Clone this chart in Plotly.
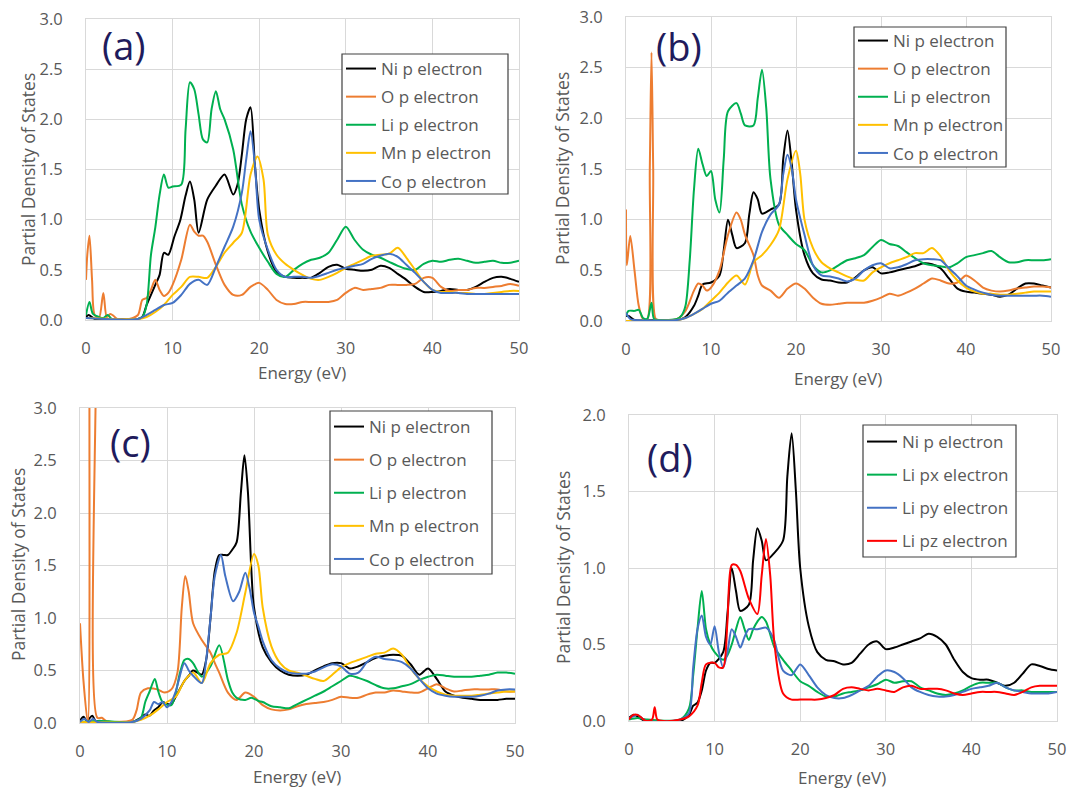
import plotly.graph_objects as go

W, H = 1069, 789
TAIL_E = list(range(21, 51))

# ---------------- panel (a) ----------------
a_ni_e = [0, 0.3, 1, 2, 4, 6, 6.5, 7, 7.5, 8, 8.5, 9, 9.5, 10.2, 10.9, 11.5, 12, 12.5, 13, 14,
          15, 16, 17, 17.5, 18, 18.5, 19, 19.5, 20] + TAIL_E
a_ni_v = [0.03, 0.05, 0.01, 0.01, 0.01, 0.01, 0.03, 0.15, 0.25, 0.35, 0.45, 0.67, 0.65, 0.83, 1.0, 1.24, 1.38, 1.2, 0.87, 1.2,
          1.34, 1.45, 1.25, 1.35, 1.65, 2.0, 2.12, 1.55, 1.1,
          0.68, 0.48, 0.43, 0.42, 0.42, 0.42, 0.47, 0.53, 0.55, 0.51,
          0.5, 0.49, 0.5, 0.54, 0.52, 0.46, 0.4, 0.33, 0.28, 0.28,
          0.29, 0.31, 0.3, 0.3, 0.33, 0.38, 0.42, 0.43, 0.41, 0.38]

a_o_e = [0, 0.15, 0.4, 0.7, 1.0, 1.5, 2.0, 2.4, 2.8, 3.2, 3.6, 5, 6, 6.5, 7, 7.5, 8, 8.5, 9, 9.5, 10,
         11, 12, 12.5, 13, 13.5, 14, 15, 16, 17, 18, 19, 20] + TAIL_E
a_o_v = [0.4, 0.65, 0.84, 0.4, 0.05, 0.02, 0.27, 0.03, 0.06, 0.04, 0.01, 0.01, 0.05, 0.2, 0.22, 0.3, 0.4, 0.3, 0.24, 0.27, 0.35,
         0.6, 0.95, 0.88, 0.84, 0.84, 0.78, 0.55, 0.35, 0.25, 0.25, 0.33, 0.37,
         0.3, 0.2, 0.16, 0.16, 0.18, 0.18, 0.18, 0.18, 0.2, 0.27,
         0.32, 0.3, 0.31, 0.32, 0.35, 0.35, 0.35, 0.36, 0.42, 0.42,
         0.33, 0.29, 0.3, 0.3, 0.32, 0.32, 0.33, 0.34, 0.36, 0.34]

a_li_e = [0, 0.4, 0.8, 1.5, 2, 2.5, 3, 6, 6.5, 7, 7.5, 8, 8.5, 9, 9.5, 10, 11, 11.5, 12, 12.5,
          13, 13.5, 14, 14.5, 15, 15.5, 16, 17, 18, 19, 20] + TAIL_E
a_li_v = [0.05, 0.18, 0.06, 0.03, 0.02, 0.05, 0.01, 0.01, 0.03, 0.15, 0.65, 0.92, 1.25, 1.45, 1.32, 1.33, 1.35, 1.9, 2.37, 2.3,
          2.05, 1.8, 1.77, 2.1, 2.28, 2.1, 2.0, 1.7, 1.15, 0.88, 0.72,
          0.58, 0.46, 0.43, 0.5, 0.56, 0.6, 0.62, 0.67, 0.8, 0.93,
          0.8, 0.7, 0.65, 0.62, 0.58, 0.54, 0.51, 0.5, 0.56, 0.59,
          0.58, 0.6, 0.61, 0.59, 0.57, 0.58, 0.59, 0.57, 0.57, 0.59]

a_mn_e = [0, 6, 7, 8, 9, 10, 11, 12, 13, 14, 15, 16, 17, 18, 19, 19.8, 20.5] + TAIL_E
a_mn_v = [0.02, 0.01, 0.03, 0.08, 0.15, 0.25, 0.33, 0.43, 0.43, 0.42, 0.53, 0.67, 0.77, 0.87, 1.45, 1.63, 1.4,
          0.85, 0.65, 0.56, 0.5, 0.45, 0.41, 0.4, 0.43, 0.47, 0.52,
          0.56, 0.6, 0.64, 0.65, 0.66, 0.72, 0.62, 0.5, 0.38, 0.3,
          0.28, 0.28, 0.27, 0.27, 0.26, 0.26, 0.27, 0.28, 0.29, 0.29]

a_co_e = [0, 6, 7, 8, 9, 10, 11, 12, 13, 14, 15, 16, 17, 18, 18.5, 19, 19.5, 20] + TAIL_E
a_co_v = [0.02, 0.01, 0.05, 0.1, 0.15, 0.17, 0.25, 0.36, 0.4, 0.35, 0.53, 0.73, 0.93, 1.27, 1.6, 1.88, 1.55, 1.0,
          0.7, 0.5, 0.43, 0.43, 0.43, 0.42, 0.44, 0.47, 0.5, 0.52,
          0.54, 0.56, 0.61, 0.64, 0.66, 0.63, 0.55, 0.47, 0.38, 0.3,
          0.27, 0.27, 0.27, 0.26, 0.26, 0.26, 0.26, 0.26, 0.26, 0.26]

# ---------------- panel (b) ----------------
b_ni_e = [0, 0.3, 1, 4, 6, 7, 8, 8.5, 9, 10, 11, 11.5, 12, 12.5, 13, 14, 14.5, 15, 15.5, 16,
          17, 18, 18.5, 19, 19.5, 20] + TAIL_E
b_ni_v = [0.05, 0.05, 0.01, 0.01, 0.01, 0.04, 0.15, 0.25, 0.36, 0.38, 0.45, 0.7, 1.0, 0.85, 0.72, 0.77, 1.05, 1.27, 1.2, 1.06,
          1.1, 1.15, 1.6, 1.88, 1.55, 1.1,
          0.65, 0.47, 0.41, 0.4, 0.38, 0.38, 0.43, 0.5, 0.53, 0.47,
          0.48, 0.5, 0.52, 0.54, 0.57, 0.56, 0.52, 0.42, 0.32, 0.29,
          0.28, 0.27, 0.26, 0.24, 0.26, 0.32, 0.37, 0.37, 0.35, 0.33]

b_o_e = [0, 0.1, 0.5, 1, 1.5, 2, 2.5, 2.8, 3.0, 3.2, 3.5, 4, 6, 7, 8, 8.5, 9, 9.5, 10, 11,
         12, 13, 13.5, 14, 15, 15.5, 16, 17, 18, 19, 20] + TAIL_E
b_o_v = [1.1, 0.55, 0.84, 0.5, 0.15, 0.02, 0.02, 1.5, 2.65, 1.5, 0.02, 0.01, 0.02, 0.1, 0.3, 0.37, 0.35, 0.3, 0.33, 0.5,
         0.85, 1.07, 1.0, 0.85, 0.65, 0.45, 0.35, 0.3, 0.23, 0.32, 0.37,
         0.32, 0.23, 0.17, 0.16, 0.17, 0.18, 0.18, 0.18, 0.2, 0.23,
         0.27, 0.25, 0.28, 0.32, 0.37, 0.42, 0.4, 0.37, 0.38, 0.45,
         0.4, 0.33, 0.3, 0.29, 0.3, 0.32, 0.33, 0.34, 0.34, 0.33]

b_li_e = [0, 0.3, 1, 1.5, 2, 2.5, 3.0, 3.3, 4, 6, 6.5, 7, 7.5, 8, 8.5, 9, 9.5, 10, 10.5, 11,
          11.5, 12, 13, 13.5, 14, 15, 15.5, 16, 16.5, 17, 18, 19, 20] + TAIL_E
b_li_v = [0.05, 0.1, 0.1, 0.11, 0.03, 0.02, 0.18, 0.02, 0.01, 0.02, 0.05, 0.15, 0.6, 1.3, 1.7, 1.55, 1.43, 1.48, 1.2, 1.07,
          1.6, 2.07, 2.15, 2.05, 1.93, 1.93, 2.2, 2.48, 2.1, 1.4, 0.95, 0.85, 0.76,
          0.7, 0.55, 0.48, 0.5, 0.55, 0.6, 0.62, 0.65, 0.73, 0.8,
          0.76, 0.74, 0.68, 0.62, 0.57, 0.55, 0.54, 0.53, 0.57, 0.63,
          0.65, 0.67, 0.69, 0.63, 0.58, 0.58, 0.6, 0.6, 0.6, 0.61]

b_mn_e = [0, 6, 7, 8, 9, 10, 11, 12, 13, 14, 15, 16, 17, 18, 19, 20, 20.5] + TAIL_E
b_mn_v = [0.0, 0.01, 0.03, 0.07, 0.12, 0.2, 0.28, 0.38, 0.45, 0.36, 0.58, 0.65, 0.75, 0.9, 1.4, 1.68, 1.45,
          1.0, 0.72, 0.58, 0.52, 0.48, 0.44, 0.41, 0.4, 0.48, 0.53,
          0.57, 0.6, 0.63, 0.67, 0.67, 0.72, 0.64, 0.5, 0.4, 0.33,
          0.29, 0.27, 0.27, 0.26, 0.26, 0.27, 0.28, 0.29, 0.29, 0.29]

b_co_e = [0, 0.5, 1, 6, 7, 8, 9, 10, 11, 12, 13, 14, 15, 16, 17, 18, 18.5, 19, 19.5, 20] + TAIL_E
b_co_v = [0.08, 0.02, 0.01, 0.01, 0.03, 0.07, 0.12, 0.17, 0.2, 0.28, 0.35, 0.42, 0.6, 0.88, 1.05, 1.15, 1.45, 1.64, 1.5, 1.2,
          0.85, 0.55, 0.45, 0.44, 0.42, 0.39, 0.42, 0.5, 0.55, 0.57,
          0.52, 0.53, 0.56, 0.6, 0.61, 0.61, 0.6, 0.52, 0.44, 0.35,
          0.31, 0.28, 0.26, 0.25, 0.25, 0.25, 0.25, 0.25, 0.25, 0.24]

# ---------------- panel (c) ----------------
c_ni_e = [0, 0.4, 0.8, 1.4, 1.8, 2.5, 6, 7, 7.5, 8, 8.5, 9, 9.5, 10, 10.5, 11, 12, 12.5, 13, 13.5,
          14, 14.5, 15, 15.5, 16, 16.5, 17, 17.5, 18, 18.5, 18.9, 19.3, 19.7, 20] + TAIL_E
c_ni_v = [0.02, 0.06, 0.02, 0.07, 0.02, 0.01, 0.01, 0.05, 0.08, 0.07, 0.12, 0.15, 0.2, 0.18, 0.18, 0.25, 0.4, 0.45, 0.5, 0.48,
          0.46, 0.6, 1.0, 1.45, 1.6, 1.6, 1.6, 1.65, 1.72, 2.2, 2.55, 2.2, 1.45, 1.1,
          0.72, 0.58, 0.5, 0.46, 0.45, 0.46, 0.5, 0.54, 0.57, 0.57,
          0.52, 0.54, 0.58, 0.62, 0.64, 0.65, 0.64, 0.56, 0.46, 0.52,
          0.42, 0.3, 0.26, 0.24, 0.23, 0.22, 0.22, 0.22, 0.23, 0.23]

c_o_e = [0, 0.4, 0.9, 1.1, 1.5, 1.9, 2.0, 2.5, 3, 4, 6, 6.5, 7, 7.8, 8.9, 9.7, 10.5, 11.2, 11.7, 12.1,
         12.5, 13, 14, 15, 15.5, 16, 17, 18, 19, 20] + TAIL_E
c_o_v = [0.95, 0.4, 0.0, 4.0, 9.0, 4.0, 0.05, 0.05, 0.02, 0.01, 0.03, 0.12, 0.29, 0.33, 0.32, 0.29, 0.32, 0.48, 1.1, 1.4,
         1.25, 0.95, 0.79, 0.67, 0.57, 0.48, 0.29, 0.22, 0.29, 0.25,
         0.17, 0.13, 0.12, 0.13, 0.16, 0.18, 0.19, 0.2, 0.22, 0.25,
         0.24, 0.24, 0.27, 0.29, 0.29, 0.31, 0.3, 0.29, 0.29, 0.33,
         0.37, 0.33, 0.3, 0.31, 0.32, 0.32, 0.32, 0.32, 0.3, 0.3]

c_li_e = [0, 2, 2.5, 6, 7, 7.5, 8, 8.6, 9, 9.5, 10.5, 11.5, 12, 12.5, 13, 14, 15, 16, 17, 17.5,
          18, 19, 19.7, 20.5] + TAIL_E
c_li_v = [0.01, 0.02, 0.02, 0.01, 0.05, 0.2, 0.3, 0.42, 0.3, 0.2, 0.17, 0.48, 0.6, 0.61, 0.57, 0.44, 0.54, 0.74, 0.41, 0.29,
          0.24, 0.22, 0.24, 0.21,
          0.2, 0.16, 0.15, 0.14, 0.18, 0.22, 0.26, 0.3, 0.35, 0.4,
          0.45, 0.43, 0.4, 0.36, 0.33, 0.33, 0.35, 0.37, 0.41, 0.44,
          0.46, 0.45, 0.44, 0.44, 0.44, 0.45, 0.46, 0.48, 0.48, 0.47]

c_mn_e = [0, 6, 7, 8, 9, 10, 11, 12, 13, 14, 15, 16, 17, 18, 19, 20, 20.5] + TAIL_E
c_mn_v = [0.01, 0.01, 0.03, 0.07, 0.13, 0.2, 0.25, 0.4, 0.48, 0.38, 0.57, 0.65, 0.67, 0.86, 1.24, 1.61, 1.5,
          1.1, 0.73, 0.57, 0.5, 0.48, 0.45, 0.42, 0.4, 0.46, 0.53,
          0.57, 0.6, 0.63, 0.66, 0.67, 0.71, 0.65, 0.52, 0.42, 0.35,
          0.3, 0.27, 0.26, 0.26, 0.26, 0.27, 0.28, 0.29, 0.3, 0.3]

c_co_e = [0, 0.5, 1, 1.5, 2, 6, 7, 8, 8.5, 9, 9.5, 10, 10.5, 11, 12, 12.5, 13, 14, 14.5, 15,
          15.5, 16.2, 16.7, 17.6, 18.3, 19, 19.5, 20, 20.5] + TAIL_E
c_co_v = [0.01, 0.04, 0.01, 0.04, 0.01, 0.01, 0.04, 0.12, 0.2, 0.18, 0.2, 0.15, 0.2, 0.3, 0.57, 0.5, 0.45, 0.38, 0.6, 1.0,
          1.4, 1.6, 1.4, 1.16, 1.25, 1.43, 1.28, 1.05, 0.92,
          0.78, 0.6, 0.52, 0.48, 0.47, 0.47, 0.49, 0.53, 0.56, 0.54,
          0.47, 0.48, 0.58, 0.63, 0.61, 0.6, 0.58, 0.52, 0.42, 0.33,
          0.28, 0.26, 0.25, 0.25, 0.25, 0.26, 0.28, 0.31, 0.32, 0.32]

# ---------------- panel (d) ----------------
d_ni_e = [0, 0.5, 1, 1.5, 2, 6, 7, 7.5, 8, 8.5, 9, 9.5, 10, 11, 11.5, 12, 12.5, 13, 14, 14.5,
          15, 15.5, 16, 17, 18, 18.5, 19, 19.5, 20] + TAIL_E
d_ni_v = [0.02, 0.04, 0.03, 0.01, 0.0, 0.0, 0.04, 0.1, 0.12, 0.2, 0.33, 0.38, 0.38, 0.45, 0.7, 1.0, 0.85, 0.72, 0.76, 1.05,
          1.26, 1.18, 1.05, 1.1, 1.18, 1.6, 1.88, 1.5, 1.0,
          0.62, 0.45, 0.4, 0.39, 0.37, 0.38, 0.44, 0.5, 0.52, 0.47,
          0.48, 0.5, 0.52, 0.54, 0.57, 0.55, 0.5, 0.4, 0.32, 0.28,
          0.27, 0.27, 0.25, 0.23, 0.25, 0.31, 0.37, 0.36, 0.34, 0.33]

d_px_e = [0, 1, 2, 6, 7, 7.5, 8, 8.5, 9, 9.5, 10, 11, 11.5, 12, 12.5, 13, 13.5, 14, 14.5, 15,
          15.5, 16, 17, 18, 19, 20] + TAIL_E
d_px_v = [0.01, 0.02, 0.01, 0.01, 0.08, 0.3, 0.6, 0.85, 0.6, 0.5, 0.45, 0.4, 0.43, 0.5, 0.6, 0.68, 0.6, 0.53, 0.6, 0.65,
          0.68, 0.65, 0.48, 0.4, 0.33, 0.26,
          0.23, 0.19, 0.16, 0.16, 0.18, 0.19, 0.2, 0.22, 0.24, 0.27,
          0.25, 0.26, 0.26, 0.22, 0.2, 0.18, 0.17, 0.18, 0.2, 0.23,
          0.25, 0.25, 0.25, 0.22, 0.2, 0.2, 0.19, 0.19, 0.19, 0.19]

d_py_e = [0, 0.5, 1, 1.5, 2, 6, 7, 7.5, 8, 8.5, 9, 9.5, 10, 10.5, 11, 11.5, 12, 12.5, 13, 13.5,
          14, 15, 16, 16.5, 17, 18, 19, 20] + TAIL_E
d_py_v = [0.02, 0.03, 0.04, 0.02, 0.0, 0.01, 0.05, 0.35, 0.6, 0.69, 0.55, 0.5, 0.62, 0.45, 0.35, 0.45, 0.6, 0.55, 0.48, 0.55,
          0.6, 0.6, 0.61, 0.58, 0.52, 0.33, 0.3, 0.37,
          0.3, 0.22, 0.17, 0.15, 0.15, 0.17, 0.2, 0.23, 0.29, 0.33,
          0.32, 0.28, 0.22, 0.19, 0.17, 0.16, 0.16, 0.17, 0.19, 0.21,
          0.22, 0.23, 0.25, 0.22, 0.2, 0.19, 0.18, 0.18, 0.18, 0.19]

d_pz_e = [0, 0.5, 1, 1.5, 2, 2.7, 3.0, 3.3, 4, 6, 7, 8, 8.5, 9, 10, 10.5, 11, 11.5, 12, 12.5,
          13, 14, 15, 15.5, 16, 16.5, 17, 18, 19, 20] + TAIL_E
d_pz_v = [0.01, 0.04, 0.04, 0.02, 0.0, 0.01, 0.09, 0.01, 0.0, 0.01, 0.03, 0.1, 0.25, 0.37, 0.38, 0.35, 0.35, 0.65, 1.02, 1.02,
          0.98, 0.8, 0.7, 0.95, 1.19, 0.95, 0.5, 0.18, 0.14, 0.14,
          0.14, 0.14, 0.15, 0.17, 0.21, 0.22, 0.21, 0.2, 0.21, 0.2,
          0.19, 0.22, 0.23, 0.21, 0.21, 0.21, 0.2, 0.18, 0.17, 0.18,
          0.19, 0.19, 0.19, 0.18, 0.17, 0.19, 0.22, 0.23, 0.23, 0.23]

# ---------------- styling ----------------
C_NI, C_O, C_LI, C_MN, C_CO, C_PZ = "#000000", "#ED7D31", "#00B050", "#FFC000", "#4472C4", "#FF0000"
FONT = "Open Sans"
GRAY = "#595959"
NAVY = "#1F1B5C"


def px_x(v):
    return v / W


def px_y(v):
    return 1 - v / H


panels = [
    dict(tag="(a)", xa="x", ya="y", leg="legend", ymax=3.0,
         box=(86, 519, 19, 320), lab=(124, 45), xt=(302, 372), yt=(28, 170),
         legbox=(342, 508, 54, 194), legy=51, gap=3,
         series=[("Ni p electron", a_ni_e, a_ni_v, C_NI), ("O p electron", a_o_e, a_o_v, C_O),
                 ("Li p electron", a_li_e, a_li_v, C_LI), ("Mn p electron", a_mn_e, a_mn_v, C_MN),
                 ("Co p electron", a_co_e, a_co_v, C_CO)]),
    dict(tag="(b)", xa="x2", ya="y2", leg="legend2", ymax=3.0,
         box=(626, 1051, 17, 321), lab=(679, 46), xt=(838, 378), yt=(562, 169),
         legbox=(854, 1006, 27, 167), legy=23, gap=3,
         series=[("Ni p electron", b_ni_e, b_ni_v, C_NI), ("O p electron", b_o_e, b_o_v, C_O),
                 ("Li p electron", b_li_e, b_li_v, C_LI), ("Mn p electron", b_mn_e, b_mn_v, C_MN),
                 ("Co p electron", b_co_e, b_co_v, C_CO)]),
    dict(tag="(c)", xa="x3", ya="y3", leg="legend3", ymax=3.0,
         box=(80, 515, 408, 723), lab=(130, 442), xt=(297, 776), yt=(18, 565),
         legbox=(330, 492, 411, 574), legy=409, gap=8,
         series=[("Ni p electron", c_ni_e, c_ni_v, C_NI), ("O p electron", c_o_e, c_o_v, C_O),
                 ("Li p electron", c_li_e, c_li_v, C_LI), ("Mn p electron", c_mn_e, c_mn_v, C_MN),
                 ("Co p electron", c_co_e, c_co_v, C_CO)]),
    dict(tag="(d)", xa="x4", ya="y4", leg="legend4", ymax=2.0,
         box=(629, 1057, 415, 721), lab=(670, 457), xt=(842, 777), yt=(563, 568),
         legbox=(863, 1016, 425, 557), legy=424, gap=8,
         series=[("Ni p electron", d_ni_e, d_ni_v, C_NI), ("Li px electron", d_px_e, d_px_v, C_LI),
                 ("Li py electron", d_py_e, d_py_v, C_CO), ("Li pz electron", d_pz_e, d_pz_v, C_PZ)]),
]

fig = go.Figure()
layout = dict(width=W, height=H, autosize=False,
              margin=dict(l=0, r=0, t=0, b=0, pad=0, autoexpand=False),
              paper_bgcolor="white", plot_bgcolor="white", showlegend=True,
              font=dict(family=FONT, color=GRAY), annotations=[], shapes=[])

for p in panels:
    for i, (name, e, v, c) in enumerate(p["series"]):
        if len(e) != len(v):
            raise ValueError(f"{p['tag']} {name}: {len(e)} vs {len(v)}")
        fig.add_trace(go.Scatter(
            x=e, y=v, mode="lines", name=name,
            line=dict(color=c, width=2, shape="spline", smoothing=0.8),
            xaxis=p["xa"], yaxis=p["ya"], legend=p["leg"],
            legendgroup=p["leg"] + "_" + str(i), hoverinfo="skip"))
    x0, x1, y0, y1 = p["box"]
    xkey = "xaxis" + p["xa"][1:]
    ykey = "yaxis" + p["ya"][1:]
    layout[xkey] = dict(domain=[px_x(x0), px_x(x1)], anchor=p["ya"], range=[0, 50], dtick=10,
                        showgrid=True, gridcolor="#D9D9D9", gridwidth=1, zeroline=False,
                        showline=True, linecolor="#D9D9D9", mirror=True, ticks="",
                        tickfont=dict(size=16.5, color=GRAY, family=FONT), ticklabelstandoff=13,
                        fixedrange=True, automargin=False)
    layout[ykey] = dict(domain=[px_y(y1), px_y(y0)], anchor=p["xa"], range=[0, p["ymax"]], dtick=0.5,
                        tickformat=".1f", showgrid=True, gridcolor="#D9D9D9", gridwidth=1, zeroline=False,
                        showline=True, linecolor="#D9D9D9", mirror=True, ticks="",
                        tickfont=dict(size=16.5, color=GRAY, family=FONT), ticklabelstandoff=19,
                        fixedrange=True, automargin=False)
    bx0, bx1, by0, by1 = p["legbox"]
    layout["shapes"].append(dict(type="rect", xref="paper", yref="paper", layer="above",
                                 x0=px_x(bx0), x1=px_x(bx1), y0=px_y(by1), y1=px_y(by0),
                                 line=dict(color="#404040", width=1.2), fillcolor="white"))
    layout[p["leg"]] = dict(x=px_x(bx0 - 1), y=px_y(p["legy"]), xanchor="left", yanchor="top",
                            xref="paper", yref="paper",
                            bgcolor="rgba(0,0,0,0)", borderwidth=0,
                            font=dict(size=17, color=GRAY, family=FONT),
                            tracegroupgap=p["gap"], itemwidth=30, traceorder="grouped")
    layout["annotations"].append(dict(text=p["tag"], xref="paper", yref="paper",
                                      x=px_x(p["lab"][0]), y=px_y(p["lab"][1]),
                                      xanchor="center", yanchor="middle", showarrow=False,
                                      font=dict(size=38, color=NAVY, family=FONT)))
    layout["annotations"].append(dict(text="Energy (eV)", xref="paper", yref="paper",
                                      x=px_x(p["xt"][0]), y=px_y(p["xt"][1]),
                                      xanchor="center", yanchor="middle", showarrow=False,
                                      font=dict(size=17, color=GRAY, family=FONT)))
    layout["annotations"].append(dict(text="Partial Density of States", xref="paper", yref="paper",
                                      x=px_x(p["yt"][0]), y=px_y(p["yt"][1]), textangle=-90,
                                      xanchor="center", yanchor="middle", showarrow=False,
                                      font=dict(size=17.5, color=GRAY, family=FONT)))

fig.update_layout(**layout)
fig.write_html("out.html", config={"displayModeBar": False},
               post_script="document.body.style.margin='0px';")
